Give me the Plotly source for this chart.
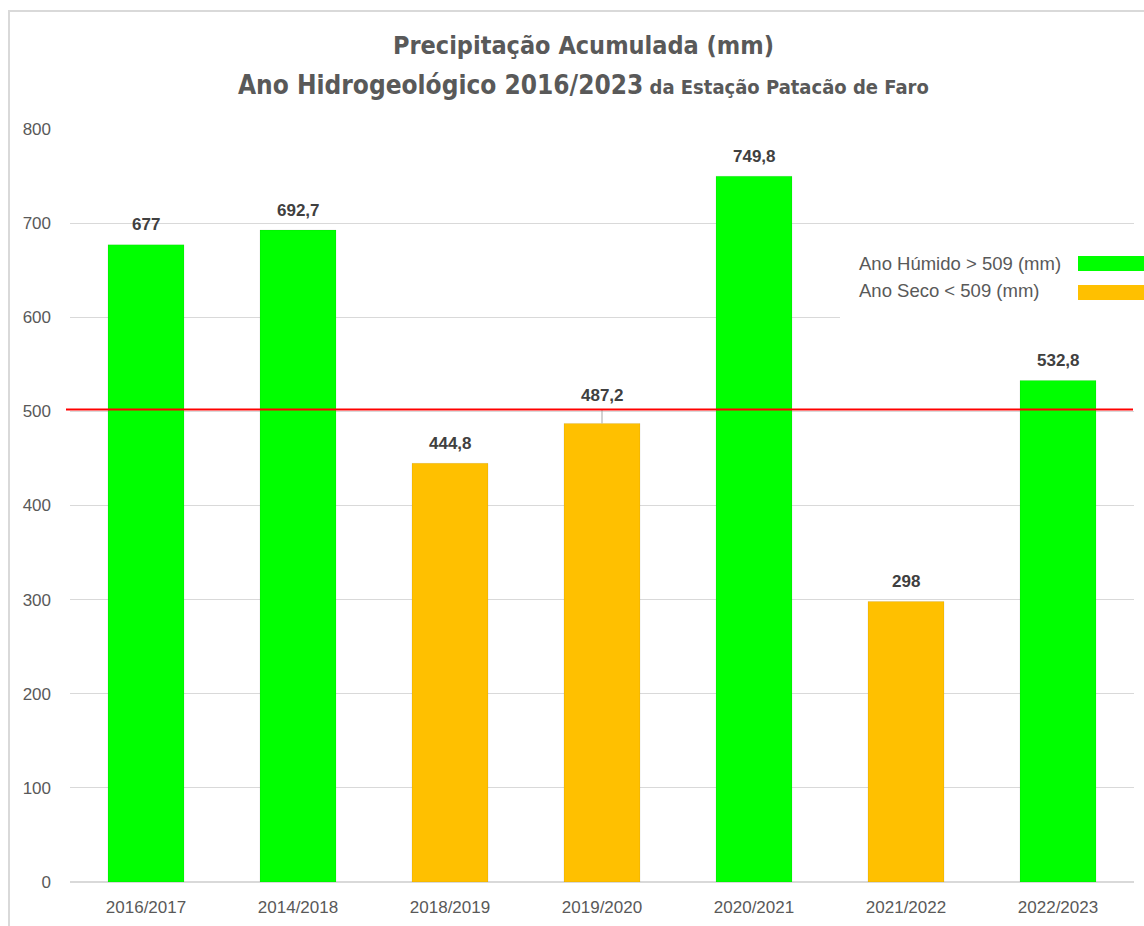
import plotly.graph_objects as go

# Hydrological years and accumulated precipitation (mm)
anos = ["2016/2017", "2014/2018", "2018/2019", "2019/2020", "2020/2021", "2021/2022", "2022/2023"]
precipitacao = [677, 692.7, 444.8, 487.2, 749.8, 298, 532.8]
tipo_ano = ["húmido", "húmido", "seco", "seco", "húmido", "seco", "húmido"]
limite_linha = 502
y_ticks = [0, 100, 200, 300, 400, 500, 600, 700, 800]

cores = {"húmido": "#00FF00", "seco": "#FFC000"}
cor_barras = [cores[t] for t in tipo_ano]

W, H = 1144, 926
L, R, T, B = 70, 10, 129, 44
pw, ph = W - L - R, H - T - B


def px_x(p):
    return (p - L) / pw


def px_y(p):
    return (H - B - p) / ph


fig = go.Figure()
fig.add_trace(go.Bar(
    x=anos, y=precipitacao, width=0.5,
    marker=dict(color=cor_barras, line=dict(color="rgba(0,0,0,0.07)", width=1)),
    hoverinfo="x+y", showlegend=False,
))

# value labels above each bar
for a, v in zip(anos, precipitacao):
    txt = f"{v:g}".replace(".", ",")
    shift = 20
    if a == "2019/2020":
        shift = 28
    fig.add_annotation(x=a, y=v, text=f"<b>{txt}</b>", showarrow=False,
                       yshift=shift, font=dict(family="Liberation Sans, Arial", size=17, color="#404040"))

# leader line for the label that sits above the reference line
fig.add_shape(type="line", xref="x", yref="y", x0="2019/2020", x1="2019/2020",
              y0=487.2, y1=487.2 + 15, line=dict(color="#a6a6a6", width=1))

# reference line
fig.add_shape(type="line", xref="paper", yref="y", x0=px_x(66), x1=px_x(1133),
              y0=limite_linha, y1=limite_linha, line=dict(color="#ff0000", width=2), layer="above")

# legend block
fig.add_shape(type="rect", xref="paper", yref="paper", x0=px_x(840), x1=px_x(1150),
              y0=px_y(322), y1=px_y(238), fillcolor="white", line=dict(width=0), layer="above")
fig.add_shape(type="rect", xref="paper", yref="paper", x0=px_x(1078), x1=px_x(1144),
              y0=px_y(271), y1=px_y(256), fillcolor=cores["húmido"], line=dict(width=0), layer="above")
fig.add_shape(type="rect", xref="paper", yref="paper", x0=px_x(1078), x1=px_x(1144),
              y0=px_y(300), y1=px_y(285), fillcolor=cores["seco"], line=dict(width=0), layer="above")
fig.add_annotation(xref="paper", yref="paper", x=px_x(857), y=px_y(263), xanchor="left", yanchor="middle",
                   text="Ano Húmido > 509 (mm)", showarrow=False,
                   font=dict(family="Liberation Sans, Arial", size=18.5, color="#595959"))
fig.add_annotation(xref="paper", yref="paper", x=px_x(857), y=px_y(290), xanchor="left", yanchor="middle",
                   text="Ano Seco < 509 (mm)", showarrow=False,
                   font=dict(family="Liberation Sans, Arial", size=18.5, color="#595959"))

# outer chart border
fig.add_shape(type="rect", xref="paper", yref="paper", x0=px_x(9), x1=px_x(1160),
              y0=px_y(940), y1=px_y(11), line=dict(color="#d9d9d9", width=2), layer="below")

# title
tf = "Liberation Sans Narrow, DejaVu Sans Condensed, Arial Narrow, sans-serif"
fig.add_annotation(xref="paper", yref="paper", x=px_x(583), y=px_y(45), xanchor="center", yanchor="middle",
                   text="<b>Precipitação Acumulada (mm)</b>", showarrow=False,
                   font=dict(family=tf, size=25, color="#595959"))
fig.add_annotation(xref="paper", yref="paper", x=px_x(583), y=px_y(85), xanchor="center", yanchor="middle",
                   text="<b>Ano Hidrogeológico 2016/2023</b><b><span style='font-size:20px'> da Estação Patacão de Faro</span></b>",
                   showarrow=False, font=dict(family=tf, size=26, color="#595959"))

fig.update_layout(
    width=W, height=H, margin=dict(l=L, r=R, t=T, b=B),
    paper_bgcolor="white", plot_bgcolor="white", bargap=0.5,
    font=dict(family="Liberation Sans, Arial", size=17, color="#595959"),
)
fig.update_yaxes(range=[0, 800], tickvals=y_ticks, showgrid=True, gridcolor="#d9d9d9", gridwidth=1,
                 zeroline=True, zerolinecolor="#d9d9d9", zerolinewidth=1.5, showline=False,
                 ticks="", ticklabelstandoff=18, tickfont=dict(size=17, color="#595959"))
fig.update_xaxes(showgrid=False, showline=False, ticks="", tickfont=dict(size=17, color="#595959"),
                 ticklabelstandoff=13)

fig.write_html("out.html")
